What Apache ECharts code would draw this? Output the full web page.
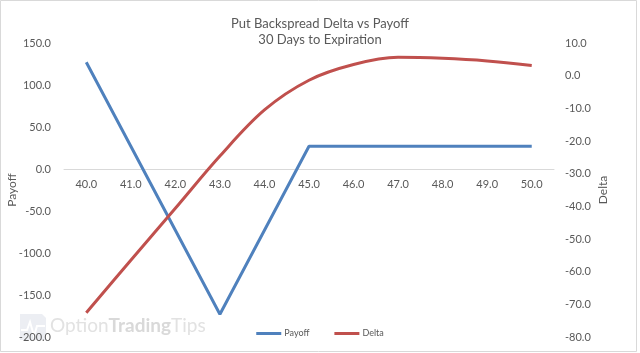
<!DOCTYPE html>
<html>
<head>
<meta charset="utf-8">
<script src="https://cdn.jsdelivr.net/npm/echarts@6/dist/echarts.min.js"></script>
<style>
html,body{margin:0;padding:0;background:#fff;}
#chart{width:640px;height:353px;}
</style>
</head>
<body>
<div id="chart"></div>
<script>
var categories = ['40.0','41.0','42.0','43.0','44.0','45.0','46.0','47.0','48.0','49.0','50.0'];
var payoff = [127, 27, -73, -173, -73, 27, 27, 27, 27, 27, 27];
var delta = [-72.6, -56.5, -40.6, -24.6, -10.5, -1.4, 3.4, 5.6, 5.3, 4.5, 3.1];
var leftTicks = {min: -200, max: 150, interval: 50};
var rightTicks = {min: -80, max: 10, interval: 10};

var FONT = 'Lato';
var TXT = '#595959';
var GRID = {left: 64, right: 86, top: 43, bottom: 16};
var chart = echarts.init(document.getElementById('chart'), null, {renderer: 'canvas'});
var option = {
  animation: false,
  backgroundColor: '#fff',
  textStyle: {fontFamily: FONT},
  title: {
    text: 'Put Backspread Delta vs Payoff\n30 Days to Expiration',
    left: 'center', top: 11,
    textStyle: {fontFamily: FONT, fontSize: 13, fontWeight: 'normal', color: TXT, lineHeight: 16}
  },
  legend: {
    bottom: 10, left: 'center',
    itemWidth: 25, itemHeight: 3, itemGap: 25,
    icon: 'rect',
    textStyle: {fontFamily: FONT, fontSize: 9, color: TXT, padding: [0,0,0,-2]},
    data: ['Payoff', 'Delta']
  },
  grid: {left: GRID.left, right: GRID.right, top: GRID.top, bottom: GRID.bottom, containLabel: false, outerBoundsMode: 'none'},
  xAxis: {
    type: 'category', data: categories, boundaryGap: true, position: 'bottom', offset: 0,
    axisLine: {show: true, onZero: false, lineStyle: {color: '#d9d9d9', width: 1}},
    axisTick: {show: false},
    axisLabel: {color: TXT, fontFamily: FONT, fontSize: 11, margin: 10},
    splitLine: {show: false}
  },
  yAxis: [{
    type: 'value', min: leftTicks.min, max: leftTicks.max, interval: leftTicks.interval,
    name: 'Payoff', nameLocation: 'middle', nameGap: 46, nameRotate: 90, nameMoveOverlap: false,
    nameTextStyle: {color: TXT, fontFamily: FONT, fontSize: 12},
    axisLine: {show: false}, axisTick: {show: false}, splitLine: {show: false},
    axisLabel: {color: TXT, fontFamily: FONT, fontSize: 11, margin: 13, formatter: function(v){return v.toFixed(1);}}
  }, {
    type: 'value', min: rightTicks.min, max: rightTicks.max, interval: rightTicks.interval,
    name: 'Delta', nameLocation: 'middle', nameGap: 43, nameRotate: 90, nameMoveOverlap: false,
    nameTextStyle: {color: TXT, fontFamily: FONT, fontSize: 12},
    position: 'right',
    axisLine: {show: false}, axisTick: {show: false}, splitLine: {show: false},
    axisLabel: {color: TXT, fontFamily: FONT, fontSize: 11, margin: 11, formatter: function(v){return v.toFixed(1);}}
  }],
  series: [{
    name: 'Payoff', type: 'line', data: payoff, yAxisIndex: 0,
    symbol: 'none', lineStyle: {color: '#4f81bd', width: 3}, itemStyle: {color: '#4f81bd'}, z: 3
  }, {
    name: 'Delta', type: 'line', data: delta, yAxisIndex: 1, smooth: 0.35,
    symbol: 'none', lineStyle: {color: '#c0504d', width: 3}, itemStyle: {color: '#c0504d'}, z: 4
  }],
  graphic: [
    {type: 'rect', shape: {x: 0.5, y: 0.5, width: 636, height: 351}, style: {fill: 'none', stroke: '#d9d9d9', lineWidth: 1}, z: 100},
    {type: 'polygon', shape: {points: [[20,314],[42,314],[46,318],[46,340],[20,340]]}, style: {fill: '#eceef3'}, z: -1},
    {type: 'polyline', shape: {points: [[21,330],[27,330],[30,322],[34,336],[37,326],[45,326]]}, style: {stroke: '#ffffff', lineWidth: 2, fill: 'none'}, z: -1},
    {type: 'text', left: 50, top: 316, z: -1,
      style: {
        text: '{a|Option}{b|Trading}{a|Tips}',
        rich: {
          a: {fontFamily: 'Lato', fontSize: 19, fill: '#e2e2e2'},
          b: {fontFamily: 'Lato', fontSize: 19, fill: '#d9d9d9', fontWeight: 'bold'}
        }
      }
    }
  ]
};
chart.setOption(option);
// Move the category axis (line + labels) onto the payoff zero line, using the library's own scale.
var zeroY = chart.convertToPixel({yAxisIndex: 0}, 0);
var bottomY = chart.convertToPixel({yAxisIndex: 0}, leftTicks.min);
chart.setOption({xAxis: {offset: zeroY - bottomY}});
</script>
</body>
</html>
